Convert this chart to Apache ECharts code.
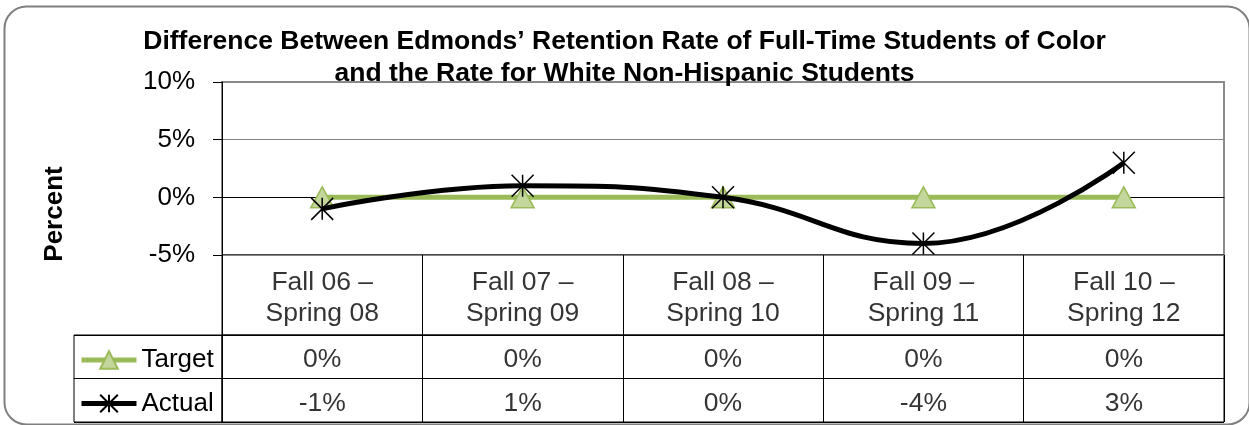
<!DOCTYPE html>
<html>
<head>
<meta charset="utf-8">
<title>Retention difference</title>
<script src="https://cdn.jsdelivr.net/npm/echarts@6/dist/echarts.min.js"></script>
<style>
  html, body { margin: 0; padding: 0; background: #fff; }
  #main { width: 1249px; height: 425px; }
</style>
</head>
<body>
<div id="main"></div>
<script>
  // chart data
  var categories = ['Fall 06 –\nSpring 08', 'Fall 07 –\nSpring 09', 'Fall 08 –\nSpring 10', 'Fall 09 –\nSpring 11', 'Fall 10 –\nSpring 12'];
  var target = [0, 0, 0, 0, 0];   // percent
  var actual = [-1, 1, 0, -4, 3]; // percent
  var rows = ['Target', 'Actual'];

  var font = 'Liberation Sans, Arial, sans-serif';
  var asterisk = 'path://M0,0L22,22M22,0L0,22M11,0L11,22';

  // cells of the data table, placed on category axes
  var catCells = categories.map(function (c, i) { return [i, 0, c]; });
  var valCells = [];
  for (var i = 0; i < categories.length; i++) {
    valCells.push([i, 0, target[i]]);
    valCells.push([i, 1, actual[i]]);
  }

  var tableLabel = {
    show: true, position: 'inside', color: '#000', offset: [0, 3],
    fontFamily: font, fontSize: 26.5, lineHeight: 31
  };

  var option = {
    animation: false,
    backgroundColor: '#fff',
    title: {
      text: 'Difference Between Edmonds\u2019 Retention Rate of Full-Time Students of Color\nand the Rate for White Non-Hispanic Students',
      left: 'center', top: 26, padding: 0,
      textStyle: { fontFamily: font, fontSize: 26.5, fontWeight: 'bold', color: '#000', lineHeight: 32 }
    },
    legend: {
      data: rows,
      orient: 'vertical',
      left: 79, top: 347, padding: 0,
      itemWidth: 55, itemHeight: 22, itemGap: 17.5,
      lineStyle: { width: 5 },
      textStyle: { fontFamily: font, fontSize: 26, color: '#000', lineHeight: 26 }
    },
    grid: [
      { left: 222, top: 82, width: 1002, height: 173, show: true, borderColor: '#8c8c8c', borderWidth: 2 },
      { left: 222, top: 255, width: 1002, height: 80, show: true, borderColor: '#000', borderWidth: 1 },
      { left: 222, top: 335, width: 1002, height: 87, show: true, borderColor: '#000', borderWidth: 1 },
      { left: 74, top: 335, width: 148, height: 87, show: true, borderColor: '#000', borderWidth: 1 }
    ],
    xAxis: [
      { gridIndex: 0, type: 'category', data: categories, boundaryGap: true,
        axisLine: { lineStyle: { color: '#000', width: 1 } },
        axisTick: { show: false }, axisLabel: { show: false }, splitLine: { show: false } },
      { gridIndex: 1, type: 'category', data: categories, boundaryGap: true,
        axisLine: { show: false }, axisTick: { show: false, interval: 0 }, axisLabel: { show: false, interval: 0 },
        splitLine: { show: true, interval: 0, lineStyle: { color: '#000', width: 1 } } },
      { gridIndex: 2, type: 'category', data: categories, boundaryGap: true,
        axisLine: { show: false }, axisTick: { show: false, interval: 0 }, axisLabel: { show: false, interval: 0 },
        splitLine: { show: true, interval: 0, lineStyle: { color: '#000', width: 1 } } },
      { gridIndex: 3, type: 'value', show: false }
    ],
    yAxis: [
      { gridIndex: 0, type: 'value', min: -5, max: 10, interval: 5,
        axisLine: { show: true, lineStyle: { color: '#000', width: 1 } },
        axisTick: { show: true, length: 9, lineStyle: { color: '#000' } },
        axisLabel: { margin: 27, fontFamily: font, fontSize: 26, color: '#000', padding: [6, 0, 0, 0],
          formatter: function (v) { return v + '%'; } },
        splitLine: { show: true, lineStyle: { color: '#868686', width: 1 } } },
      { gridIndex: 1, type: 'category', data: ['c'], show: false },
      { gridIndex: 2, type: 'category', data: rows, inverse: true,
        axisLine: { show: false }, axisTick: { show: false }, axisLabel: { show: false },
        splitLine: { show: true, interval: 0, lineStyle: { color: '#000', width: 1 } } },
      { gridIndex: 3, type: 'category', data: rows, inverse: true,
        axisLine: { show: false }, axisTick: { show: false }, axisLabel: { show: false },
        splitLine: { show: true, interval: 0, lineStyle: { color: '#000', width: 1 } } }
    ],
    series: [
      { name: 'Target', type: 'line', data: target,
        symbol: 'triangle', symbolSize: [23, 21],
        lineStyle: { color: '#9bbb59', width: 5 },
        itemStyle: { color: '#c3d69b', borderColor: '#9bbb59', borderWidth: 1.5 },
        z: 3 },
      { name: 'Actual', type: 'line', data: actual, smooth: 0.45,
        symbol: asterisk, symbolSize: 22,
        lineStyle: { color: '#000', width: 5 },
        itemStyle: { color: '#000', borderColor: '#000', borderWidth: 1.5 },
        z: 4 },
      { type: 'scatter', xAxisIndex: 1, yAxisIndex: 1, data: catCells,
        symbolSize: 1, itemStyle: { color: 'transparent' }, silent: true,
        label: Object.assign({ formatter: function (p) { return p.data[2]; } }, tableLabel) },
      { type: 'scatter', xAxisIndex: 2, yAxisIndex: 2, data: valCells,
        symbolSize: 1, itemStyle: { color: 'transparent' }, silent: true,
        label: Object.assign({ formatter: function (p) { return p.data[2] + '%'; } }, tableLabel) }
    ],
    graphic: [
      { type: 'rect', left: 2, top: 4, z: -10, silent: true,
        shape: { width: 1245, height: 418, r: 22 },
        style: { fill: 'none', stroke: '#7f7f7f', lineWidth: 2 } },
      { type: 'text', x: 55, y: 214, rotation: Math.PI / 2, silent: true,
        style: { text: 'Percent', fill: '#000', font: 'bold 26px ' + font,
          textAlign: 'center', textVerticalAlign: 'middle' } }
    ]
  };

  var myChart = echarts.init(document.getElementById('main'));
  myChart.setOption(option);
</script>
</body>
</html>
